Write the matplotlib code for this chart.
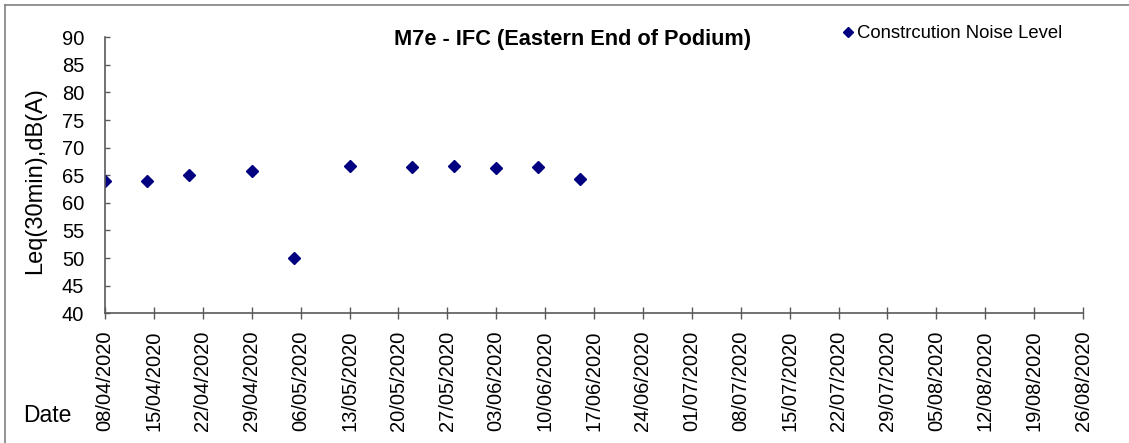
import numpy as np
import matplotlib
matplotlib.use("Agg")
import matplotlib.pyplot as plt
import matplotlib.dates as mdates
from matplotlib.lines import Line2D

plt.rcParams['font.family'] = ['Liberation Sans', 'DejaVu Sans']

# datos
fechas = ["2020-04-08", "2020-04-14", "2020-04-20", "2020-04-29", "2020-05-05",
          "2020-05-13", "2020-05-22", "2020-05-28", "2020-06-03", "2020-06-09",
          "2020-06-15"]
niveles = [64.0, 64.0, 65.0, 65.8, 50.0, 66.7, 66.5, 66.7, 66.3, 66.5, 64.3]

inicio = "2020-04-08"
fin = "2020-08-26"
yticks = list(range(40, 95, 5))

titulo = "M7e - IFC (Eastern End of Podium)"
serie = "Constrcution Noise Level"

x = np.array(fechas, dtype="datetime64[D]")
semanas = np.arange(np.datetime64(inicio), np.datetime64(fin) + 1, 7)

fig = plt.figure(figsize=(11.29, 4.43), dpi=100)
ax = fig.add_axes([0.0930, 0.2928, 0.8663, 0.6230])

ax.plot(x, niveles, linestyle="none", marker="D", markersize=6.3,
        color="#000080", label=serie)

ax.set_xlim(np.datetime64(inicio), np.datetime64(fin))
ax.set_ylim(40, 90)
ax.set_yticks(yticks)
ax.set_xticks(semanas)
ax.xaxis.set_major_formatter(mdates.DateFormatter("%d/%m/%Y"))

gris = "#595959"
for s in ["top", "right"]:
    ax.spines[s].set_visible(False)
for s in ["left", "bottom"]:
    ax.spines[s].set_color(gris)
    ax.spines[s].set_linewidth(1.2)

ax.tick_params(axis="x", direction="inout", length=8.6, width=1, color=gris,
               labelsize=14.5, pad=8, labelrotation=90)
ax.tick_params(axis="y", direction="in", length=3.6, width=1, color=gris,
               labelsize=14.5, pad=15)

fig.text(0.507, 1 - 40 / 443, titulo, ha="center", va="center",
         fontsize=15.7, fontweight="bold")
fig.text(35 / 1129, 1 - 181 / 443, "Leq(30min),dB(A)", rotation=90,
         ha="center", va="center", fontsize=17)
fig.text(47 / 1129, 1 - 416 / 443, "Date", ha="center", va="center",
         fontsize=16.5)

ax.legend(loc="center left", bbox_to_anchor=(831 / 1129, 1 - 34 / 443),
          bbox_transform=fig.transFigure, frameon=False, fontsize=13.3,
          handlelength=0.8, handletextpad=0.1, borderpad=0, markerscale=0.75)

# marco de la figura
fig.add_artist(Line2D([5 / 1129, 5 / 1129], [0, 1 - 4.7 / 443],
                      transform=fig.transFigure, color="#808080", lw=1.2))
fig.add_artist(Line2D([5 / 1129, 1], [1 - 4.7 / 443, 1 - 4.7 / 443],
                      transform=fig.transFigure, color="#808080", lw=1.2))

fig.savefig("out.png", dpi=100)
